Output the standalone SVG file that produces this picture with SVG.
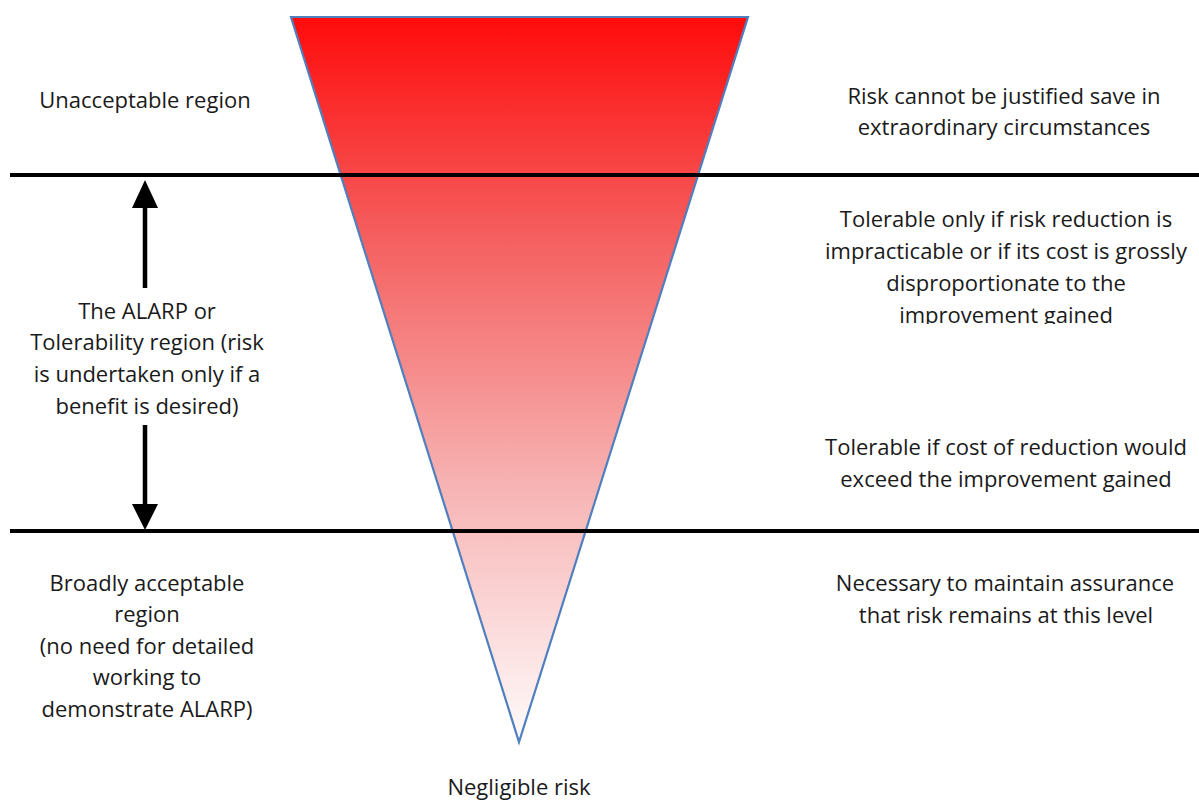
<svg xmlns="http://www.w3.org/2000/svg" width="1199" height="800" viewBox="0 0 1199 800">
<defs>
<linearGradient id="rg" x1="0" y1="0" x2="0" y2="1">
<stop offset="0" stop-color="#ff0b0b"/>
<stop offset="0.3" stop-color="#f55e5e"/>
<stop offset="0.65" stop-color="#f7b4b4"/>
<stop offset="1" stop-color="#fffbfb"/>
</linearGradient>
<clipPath id="clipT"><rect x="800" y="180" width="399" height="144"/></clipPath>
<style>
text{font-family:"Open Sans","Liberation Sans",sans-serif;font-size:22px;fill:#1a1a1a;text-anchor:middle}
.ln{stroke:#000;stroke-width:4}
.sh{stroke:#000;stroke-width:4.5}
</style>
</defs>
<rect width="1199" height="800" fill="#fff"/>
<g id="triangle">
<polygon points="291,17 748,17 519,742" fill="url(#rg)" stroke="#4f7fbf" stroke-width="2.2" stroke-linejoin="miter"/>
</g>
<g id="connectors">
<line class="ln" x1="10" y1="175" x2="1199" y2="175"/>
<line class="ln" x1="10" y1="531" x2="1199" y2="531"/>
<line class="sh" x1="145" y1="204" x2="145" y2="288"/>
<polygon points="145,180 132,208 158,208" fill="#000"/>
<line class="sh" x1="145" y1="425" x2="145" y2="508"/>
<polygon points="145,530 132,504 158,504" fill="#000"/>
</g>
<g id="unacceptable">
<text x="145" y="108">Unacceptable region</text>
</g>
<g id="alarp">
<text x="147" y="319">The ALARP or</text>
<text x="147" y="350">Tolerability region (risk</text>
<text x="147" y="382">is undertaken only if a</text>
<text x="147" y="414">benefit is desired)</text>
</g>
<g id="broadly">
<text x="147" y="591">Broadly acceptable</text>
<text x="147" y="622">region</text>
<text x="147" y="654">(no need for detailed</text>
<text x="147" y="685">working to</text>
<text x="147" y="717">demonstrate ALARP)</text>
</g>
<g id="right1">
<text x="1004" y="104">Risk cannot be justified save in</text>
<text x="1004" y="135">extraordinary circumstances</text>
</g>
<g id="right2" clip-path="url(#clipT)">
<text x="1006" y="227">Tolerable only if risk reduction is</text>
<text x="1006" y="259">impracticable or if its cost is grossly</text>
<text x="1006" y="291">disproportionate to the</text>
<text x="1006" y="323">improvement gained</text>
</g>
<g id="right3">
<text x="1006" y="455">Tolerable if cost of reduction would</text>
<text x="1006" y="487">exceed the improvement gained</text>
</g>
<g id="right4">
<text x="1005" y="591">Necessary to maintain assurance</text>
<text x="1006" y="623">that risk remains at this level</text>
</g>
<g id="negligible">
<text x="519" y="795">Negligible risk</text>
</g>
</svg>
